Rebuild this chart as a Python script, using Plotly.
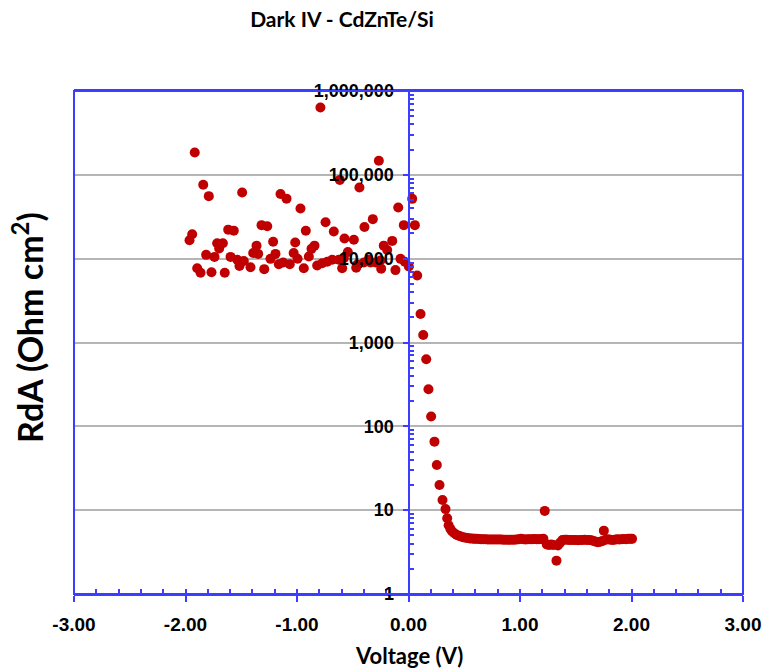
import plotly.graph_objects as go

# Reverse-bias region (V < ~0.1): scattered RdA values
voltage_rev = [-1.964, -1.94, -1.917, -1.895, -1.865, -1.841, -1.815, -1.791, -1.767, -1.74,
               -1.716, -1.698, -1.665, -1.648, -1.617, -1.596, -1.567, -1.536, -1.516, -1.492,
               -1.477, -1.417, -1.393, -1.363, -1.348, -1.318, -1.294, -1.267, -1.238, -1.214,
               -1.193, -1.163, -1.148, -1.124, -1.094, -1.065, -1.03, -1.016, -0.995, -0.969,
               -0.939, -0.921, -0.894, -0.87, -0.843, -0.819, -0.79, -0.774, -0.744, -0.729,
               -0.684, -0.67, -0.625, -0.616, -0.595, -0.58, -0.574, -0.544, -0.49, -0.469,
               -0.46, -0.44, -0.40, -0.395, -0.357, -0.341, -0.32, -0.296, -0.266, -0.251,
               -0.245, -0.222, -0.191, -0.146, -0.117, -0.092, -0.072, -0.042, -0.033, 0.003,
               0.033, 0.057, 0.078]
rda_rev = [1.66e4, 1.96e4, 1.85e5, 7.7e3, 6.8e3, 7.6e4, 1.11e4, 5.57e4, 6.9e3, 1.05e4,
           1.53e4, 1.32e4, 1.53e4, 6.8e3, 2.22e4, 1.05e4, 2.16e4, 9.7e3, 8.2e3, 6.15e4,
           9.4e3, 7.9e3, 1.17e4, 1.43e4, 1.14e4, 2.51e4, 7.5e3, 2.44e4, 9.95e3, 1.59e4,
           1.14e4, 8.6e3, 5.9e4, 9.0e3, 5.2e4, 8.6e3, 1.17e4, 1.56e4, 1.0e4, 3.96e4,
           7.7e3, 2.15e4, 1.06e4, 1.31e4, 1.43e4, 8.3e3, 6.35e5, 8.8e3, 2.72e4, 9.2e3,
           9.7e3, 2.11e4, 9.7e3, 8.7e4, 7.7e3, 1.01e4, 1.74e4, 1.2e4, 1.68e4, 7.8e3,
           8.5e3, 7.06e4, 9.0e3, 2.39e4, 9.7e3, 9.0e3, 2.96e4, 9.0e3, 1.47e5, 9.5e3,
           7.6e3, 1.43e4, 1.27e4, 1.63e4, 7.3e3, 4.07e4, 9.95e3, 2.51e4, 9.2e3, 8.05e3,
           5.17e4, 2.51e4, 6.3e3]

# Forward-bias region
voltage_fwd = [0.108, 0.132, 0.159, 0.179, 0.203, 0.233, 0.254, 0.278, 0.305, 0.332,
               0.347, 0.36, 0.375, 0.39, 0.41, 0.43, 0.45, 0.47, 0.49, 0.51,
               0.53, 0.55, 0.57, 0.59, 0.61, 0.63, 0.65, 0.67, 0.69, 0.71,
               0.73, 0.75, 0.77, 0.79, 0.81, 0.83, 0.85, 0.87, 0.89, 0.91,
               0.93, 0.95, 0.97, 0.99, 1.01, 1.03, 1.05, 1.07, 1.09, 1.11,
               1.13, 1.15, 1.17, 1.19, 1.21, 1.222, 1.24, 1.26, 1.28, 1.30,
               1.327, 1.34, 1.36, 1.38, 1.40, 1.42, 1.44, 1.46, 1.48, 1.50,
               1.52, 1.54, 1.56, 1.58, 1.60, 1.62, 1.64, 1.66, 1.68, 1.70,
               1.72, 1.74, 1.752, 1.77, 1.79, 1.81, 1.83, 1.85, 1.87, 1.89,
               1.91, 1.93, 1.95, 1.97, 1.99, 2.005]
rda_fwd = [2190, 1230, 631, 277, 131, 65.7, 34.6, 20.0, 13.2, 10.3,
           8.0, 6.6, 6.0, 5.6, 5.3, 5.1, 4.95, 4.85, 4.75, 4.7,
           4.65, 4.6, 4.58, 4.55, 4.55, 4.52, 4.5, 4.5, 4.5, 4.48,
           4.48, 4.47, 4.47, 4.46, 4.46, 4.46, 4.45, 4.45, 4.44, 4.45,
           4.44, 4.45, 4.46, 4.5, 4.55, 4.5, 4.48, 4.5, 4.5, 4.5,
           4.52, 4.5, 4.5, 4.52, 4.55, 9.8, 3.9, 3.85, 3.9, 3.85,
           2.5, 3.8, 4.1, 4.4, 4.45, 4.45, 4.4, 4.4, 4.42, 4.4,
           4.38, 4.4, 4.42, 4.45, 4.42, 4.4, 4.38, 4.3, 4.2, 4.15,
           4.2, 4.3, 5.7, 4.45, 4.5, 4.45, 4.4, 4.45, 4.5, 4.48,
           4.5, 4.52, 4.5, 4.55, 4.55, 4.55]

x_tickvals = [-3, -2, -1, 0, 1, 2, 3]
x_ticktext = ["-3.00", "-2.00", "-1.00", "0.00", "1.00", "2.00", "3.00"]
y_tickvals = [1, 10, 100, 1000, 10000, 100000, 1000000]
y_ticktext = ["1", "10", "100", "1,000", "10,000", "100,000", "1,000,000"]

title_text = "Dark IV - CdZnTe/Si"
x_title = "Voltage (V)"
y_title = "RdA (Ohm cm<sup>2</sup>)"

BLUE = "#3D3DFF"
RED = "#C00000"
ARIAL = "Liberation Sans"


def bold(labels):
    return ["<b>" + t + "</b>" for t in labels]


y_minor = [m * d for d in y_tickvals[:-1] for m in range(2, 10)]

fig = go.Figure()
fig.add_trace(go.Scatter(x=voltage_rev + voltage_fwd, y=rda_rev + rda_fwd, mode="markers",
                         marker=dict(color=RED, size=10, line=dict(width=0)),
                         showlegend=False, hoverinfo="x+y"))

fig.update_layout(
    width=767, height=668,
    margin=dict(l=74, r=24, t=91, b=74, autoexpand=False),
    paper_bgcolor="white", plot_bgcolor="white",
    showlegend=False,
    title=dict(text="<b>" + title_text + "</b>", x=342 / 767, xanchor="center",
               y=1 - 20 / 668, yanchor="middle", xref="container", yref="container",
               font=dict(family="Lato", size=21, color="black")),
    xaxis=dict(range=[-3, 3], tickvals=x_tickvals, ticktext=bold(x_ticktext),
               showline=True, linecolor=BLUE, linewidth=2, mirror=True,
               ticks="outside", ticklen=6, tickwidth=2, tickcolor=BLUE,
               minor=dict(dtick=0.2, ticks="inside", ticklen=5, tickwidth=2, tickcolor=BLUE),
               showgrid=False, zeroline=False, automargin=False,
               tickfont=dict(family=ARIAL, size=19, color="black"),
               ticklabelstandoff=6),
    xaxis2=dict(range=[-3, 3], overlaying="x", anchor="y", side="bottom",
                tickvals=x_tickvals, ticks="inside", ticklen=6, tickwidth=2, tickcolor=BLUE,
                showticklabels=False, showgrid=False, zeroline=False, showline=False,
                automargin=False),
    yaxis=dict(type="log", range=[0, 6], anchor="free", position=0.5, side="left",
               tickvals=y_tickvals, ticktext=bold(y_ticktext),
               showline=True, linecolor=BLUE, linewidth=2,
               ticks="outside", ticklen=5, tickwidth=2, tickcolor=BLUE,
               minor=dict(tickvals=y_minor, ticks="inside", ticklen=4, tickwidth=1.5,
                          tickcolor=BLUE, showgrid=False),
               showgrid=True, gridcolor="#B5B5B5", gridwidth=1.5, zeroline=False,
               automargin=False, ticklabelstandoff=5,
               tickfont=dict(family=ARIAL, size=18, color="black")),
    yaxis2=dict(type="log", range=[0, 6], overlaying="y", anchor="free", position=0.5,
                side="left", tickvals=y_tickvals, ticks="inside", ticklen=5, tickwidth=2,
                tickcolor=BLUE, showticklabels=False, showgrid=False, zeroline=False,
                showline=False, automargin=False),
    shapes=[dict(type="rect", xref="paper", yref="paper", x0=0, x1=1, y0=0, y1=1,
                 line=dict(color=BLUE, width=2), layer="above")],
    annotations=[
        dict(text="<b>" + x_title + "</b>", xref="paper", yref="paper", x=0.5,
             y=(594 - 655) / 503, xanchor="center", yanchor="middle", showarrow=False,
             font=dict(family="Lato", size=22, color="black")),
        dict(text="<b>" + y_title + "</b>", xref="paper", yref="paper", x=(28 - 74) / 669,
             y=(594 - 328) / 503, xanchor="center", yanchor="middle", showarrow=False,
             textangle=-90, font=dict(family="Lato", size=34, color="black")),
    ],
)

fig.write_html("out.html")
